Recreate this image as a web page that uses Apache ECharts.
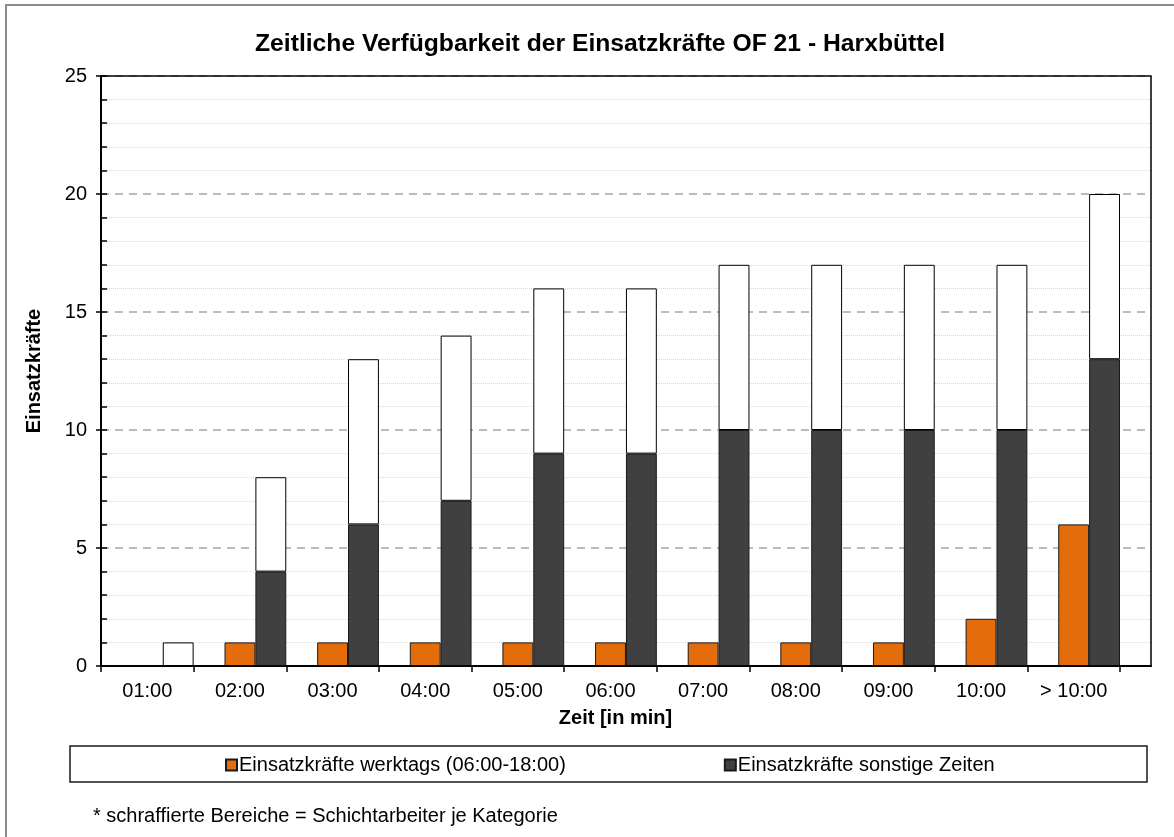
<!DOCTYPE html>
<html>
<head>
<meta charset="utf-8">
<script src="https://cdn.jsdelivr.net/npm/echarts@6/dist/echarts.min.js"></script>
<style>
html,body{margin:0;padding:0;background:#fff;}
#chart{width:1174px;height:837px;}
</style>
</head>
<body>
<div id="chart"></div>
<script>
const categories = ['01:00','02:00','03:00','04:00','05:00','06:00','07:00','08:00','09:00','10:00','> 10:00'];
const werktags = ['-',1,1,1,1,1,1,1,1,2,6];
const sonstige = [0,4,6,7,9,9,10,10,10,10,13];
const sonstigeGesamt = [1,8,13,14,16,16,17,17,17,17,20];
const schicht = sonstigeGesamt.map((v,i)=>v - sonstige[i]);
const placeholder = categories.map(()=> '-');
const yTicks = [0,5,10,15,20,25];

const FONT = 'Liberation Sans, Arial, sans-serif';
const chart = echarts.init(document.getElementById('chart'));
chart.setOption({
  animation:false,
  backgroundColor:'#fff',
  textStyle:{fontFamily:FONT},
  title:{
    text:'Zeitliche Verfügbarkeit der Einsatzkräfte OF 21 - Harxbüttel',
    left:250, top:27,
    textStyle:{fontSize:24.7,fontWeight:'bold',color:'#000',fontFamily:FONT}
  },
  grid:[
    {left:101,right:23,top:76,bottom:171,show:false},
    {left:101,right:54,top:76,bottom:171,show:false}
  ],
  legend:{
    data:['Einsatzkräfte werktags (06:00-18:00)','Einsatzkräfte sonstige Zeiten'],
    left:225, top:755, padding:0, itemWidth:11, itemHeight:11, itemGap:158,
    icon:'rect',
    textStyle:{fontSize:20,color:'#000',fontFamily:FONT,padding:[0,0,0,-3]}
  },
  xAxis:[{
    type:'value', gridIndex:0, min:0, max:1,
    axisLine:{show:true,onZero:false,lineStyle:{color:'#000',width:2}},
    axisTick:{show:false}, axisLabel:{show:false}, splitLine:{show:false}
  },{
    type:'category', gridIndex:1, data:categories,
    name:'Zeit [in min]', nameLocation:'middle', nameGap:42,
    nameTextStyle:{fontSize:20,fontWeight:'bold',color:'#000',fontFamily:FONT,padding:[0,0,0,10]},
    axisLine:{show:false},
    axisTick:{show:true,length:6,lineStyle:{color:'#000',width:1.5}},
    axisLabel:{fontSize:20,color:'#000',margin:15,fontFamily:FONT},
    splitLine:{show:false}
  }],
  yAxis:[{
    type:'value', gridIndex:0, min:0, max:25, interval:5,
    name:'Einsatzkräfte', nameLocation:'middle', nameGap:57,
    nameTextStyle:{fontSize:20,fontWeight:'bold',color:'#000',fontFamily:FONT},
    axisLine:{show:true,lineStyle:{color:'#000',width:2}},
    axisTick:{show:true,length:5,lineStyle:{color:'#000',width:1.5}},
    axisLabel:{fontSize:20,color:'#000',margin:14,fontFamily:FONT,
      formatter:(v)=> yTicks.includes(v) ? String(v) : ''},
    splitLine:{show:true,lineStyle:{color:'#a6a6a6',width:1.5,type:[8,6]}},
    minorTick:{show:false},
    minorSplitLine:{show:true,lineStyle:{color:'#d9d9d9',width:1,type:'dotted'}}
  },{
    type:'value', gridIndex:0, min:0, max:25, interval:5, position:'left',
    axisLine:{show:false},
    axisLabel:{show:false},
    axisTick:{show:true,inside:true,length:6,lineStyle:{color:'#000',width:1.5}},
    minorTick:{show:true,splitNumber:5,length:6,lineStyle:{color:'#000',width:1.5}},
    splitLine:{show:false}
  },{
    type:'value', gridIndex:1, min:0, max:25, interval:5,
    axisLine:{show:false}, axisTick:{show:false}, axisLabel:{show:false}, splitLine:{show:false}
  }],
  series:[
    {name:'Platzhalter',type:'bar',xAxisIndex:1,yAxisIndex:2,data:placeholder,barGap:0,barCategoryGap:0,silent:true},
    {name:'Einsatzkräfte werktags (06:00-18:00)',type:'bar',xAxisIndex:1,yAxisIndex:2,data:werktags,barGap:0,barCategoryGap:0,
      itemStyle:{color:'#E46C0A',borderColor:'#1a1a1a',borderWidth:1}},
    {name:'Einsatzkräfte sonstige Zeiten',type:'bar',xAxisIndex:1,yAxisIndex:2,stack:'s',data:sonstige,barGap:0,barCategoryGap:0,
      itemStyle:{color:'#404040',borderColor:'#1a1a1a',borderWidth:1}},
    {name:'Schichtarbeiter',type:'bar',xAxisIndex:1,yAxisIndex:2,stack:'s',data:schicht,barGap:0,barCategoryGap:0,
      itemStyle:{color:'#ffffff',borderColor:'#000',borderWidth:1}}
  ],
  graphic:[
    {type:'rect',shape:{x:6,y:5,width:1200,height:900},style:{fill:null,stroke:'#8c8c8c',lineWidth:2},silent:true,z:-1},
    {type:'rect',shape:{x:101,y:76,width:1050,height:590},style:{fill:null,stroke:'#000',lineWidth:1.5},silent:true,z:10},
    {type:'rect',shape:{x:70,y:746,width:1077,height:36},style:{fill:null,stroke:'#1a1a1a',lineWidth:1.5},silent:true},
    {type:'text',left:93,top:806,style:{text:'* schraffierte Bereiche = Schichtarbeiter je Kategorie',fontSize:20,fill:'#000',fontFamily:FONT},silent:true}
  ]
});
</script>
</body>
</html>
